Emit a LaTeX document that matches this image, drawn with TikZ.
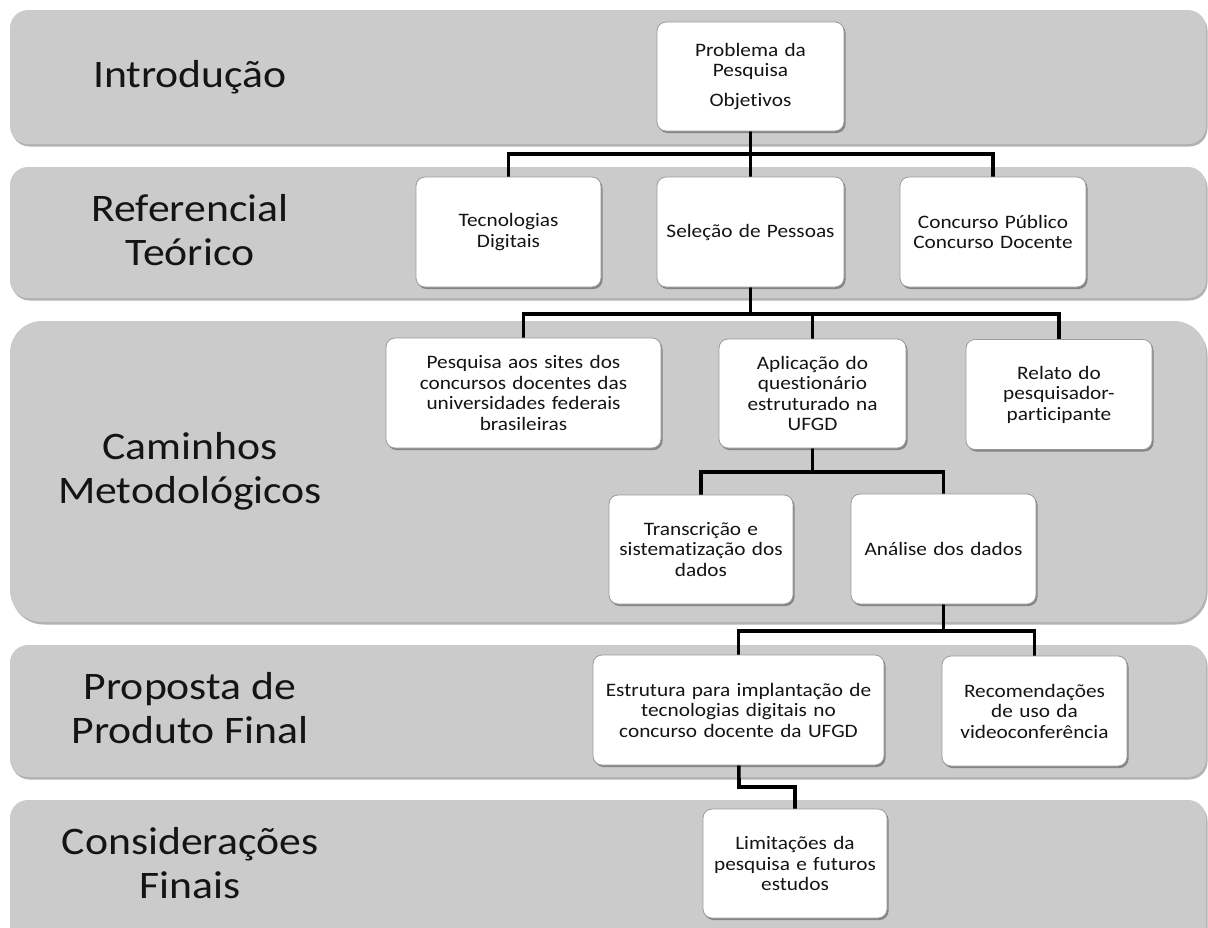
\documentclass[tikz,border=0pt]{standalone}
\usepackage{fontspec}
\setmainfont{Carlito}
\newfontfamily\widefont[FakeStretch=1.12, Ligatures={NoCommon,NoRare}]{Carlito}
\usetikzlibrary{shadows}
\definecolor{bandgray}{HTML}{CBCBCB}
\definecolor{boxline}{HTML}{9A9A9A}
\definecolor{txt}{HTML}{141414}
\tikzset{
  bandbox/.style={fill=bandgray, draw=none, inner sep=0pt,
    drop shadow={shadow xshift=1.5pt, shadow yshift=-2.5pt, opacity=0.3, fill=black}},
  lbl/.style={font=\widefont\fontsize{39}{44}\selectfont, text=txt, align=center, inner sep=0pt, anchor=base},
  stepbox/.style={fill=white, draw=boxline, line width=0.8pt, rounded corners=9pt,
    inner sep=0pt, align=center, minimum height=110pt, text=txt,
    font=\widefont\fontsize{19}{20.5}\selectfont,
    drop shadow={shadow xshift=1.5pt, shadow yshift=-2pt, opacity=0.35, fill=black}},
  conn/.style={line width=3.6pt, draw=black, line join=miter}
}
\begin{document}
\begin{tikzpicture}[x=1pt, y=-1pt]
\useasboundingbox (0,0) rectangle (1208,927);
\clip (0,0) rectangle (1208,927);
% bands
\node[bandbox, rounded corners=18pt, minimum width=1196pt, minimum height=134pt] (b1) at (608,77) {};
\node[bandbox, rounded corners=18pt, minimum width=1196pt, minimum height=131pt] (b2) at (608,232.5) {};
\node[bandbox, rounded corners=32pt, minimum width=1196pt, minimum height=301pt] (b3) at (608,471.5) {};
\node[bandbox, rounded corners=18pt, minimum width=1196pt, minimum height=132pt] (b4) at (608,711) {};
\node[bandbox, rounded corners=18pt, minimum width=1196pt, minimum height=150pt] (b5) at (608,875) {};
% band labels (anchor base = last line baseline)
\node[lbl] (l1) at (190,87) {Introdução};
\node[lbl] (l2) at (190,265) {Referencial\\Teórico};
\node[lbl] (l3) at (190,503) {Caminhos\\Metodológicos};
\node[lbl] (l4) at (190,743) {Proposta de\\Produto Final};
\node[lbl] (l5) at (190,898) {Considerações\\Finais};
% junctions
\coordinate (j1) at (750.5,154);
\coordinate (j2) at (750.5,314);
\coordinate (j3) at (812.5,472);
\coordinate (j4) at (943.5,631);
\coordinate (j5) at (739,787);
% box centres
\path
  (750.5,76.5) coordinate (cprob)
  (508.5,232) coordinate (ctec)
  (750.5,232) coordinate (csel)
  (993,232) coordinate (cconc)
  (523.5,393) coordinate (cpesq)
  (812.5,393.5) coordinate (capl)
  (1059,394.5) coordinate (crel)
  (701,549.5) coordinate (ctrans)
  (943.5,549) coordinate (cana)
  (738.5,710) coordinate (cestr)
  (1034.5,711) coordinate (crec)
  (795,863.5) coordinate (clim);
% connectors
\draw[conn] (cprob) -- (csel);
\draw[conn] (ctec) |- (j1) -| (cconc);
\draw[conn] (csel) -- (j2);
\draw[conn] (cpesq) |- (j2) -| (crel);
\draw[conn] (j2 -| capl) -- (capl);
\draw[conn] (capl) -- (j3);
\draw[conn] (ctrans) |- (j3) -| (cana);
\draw[conn] (cana) -- (j4);
\draw[conn] (cestr) |- (j4) -| (crec);
\draw[conn] (cestr) -- (j5) -| (clim);
% boxes
\node[stepbox, minimum width=187pt, minimum height=109pt, text width=180pt] (prob) at (cprob) {Problema da\\Pesquisa\\[9pt]Objetivos};
\node[stepbox, minimum width=185pt, text width=178pt] (tec) at (ctec) {Tecnologias\\Digitais};
\node[stepbox, minimum width=187pt, text width=180pt] (sel) at (csel) {Seleção de Pessoas};
\node[stepbox, minimum width=186pt, text width=180pt] (conc) at (cconc) {Concurso Público\\Concurso Docente};
\node[stepbox, minimum width=275pt, text width=268pt] (pesq) at (cpesq) {Pesquisa aos sites dos\\concursos docentes das\\universidades federais\\brasileiras};
\node[stepbox, minimum width=187pt, minimum height=109pt, text width=180pt] (apl) at (capl) {Aplicação do\\questionário\\estruturado na\\UFGD};
\node[stepbox, minimum width=186pt, text width=180pt] (rel) at (crel) {Relato do\\pesquisador-\\participante};
\node[stepbox, minimum width=184pt, minimum height=109pt, text width=178pt] (trans) at (ctrans) {Transcrição e\\sistematização dos\\dados};
\node[stepbox, minimum width=185pt, text width=178pt] (ana) at (cana) {Análise dos dados};
\node[stepbox, minimum width=291pt, text width=284pt] (estr) at (cestr) {Estrutura para implantação de\\tecnologias digitais no\\concurso docente da UFGD};
\node[stepbox, minimum width=185pt, text width=178pt] (rec) at (crec) {Recomendações\\de uso da\\videoconferência};
\node[stepbox, minimum width=184pt, minimum height=109pt, text width=178pt] (lim) at (clim) {Limitações da\\pesquisa e futuros\\estudos};
\end{tikzpicture}
\end{document}
